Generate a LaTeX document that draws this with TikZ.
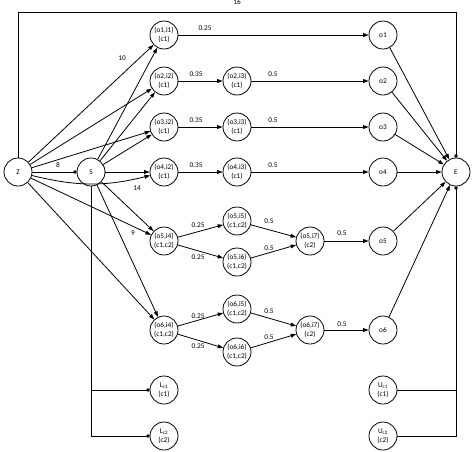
\documentclass[tikz,border=0pt]{standalone}
\usepackage{fontspec}
\setmainfont{Carlito}
\usetikzlibrary{arrows.meta}

\begin{document}
\begin{tikzpicture}[x=1pt,y=-1pt,
  vtx/.style={circle,draw,line width=0.8pt,minimum size=28pt,inner sep=0pt,align=center,font=\fontsize{7.3}{8.6}\selectfont},
  lbl/.style={font=\fontsize{7.3}{8}\selectfont,inner sep=0pt},
  flow/.style={-{Triangle[length=5.5pt,width=3.8pt]},line width=0.8pt},
  dotend/.style={-{Circle[length=3.4pt]},line width=0.8pt},
  wire/.style={line width=0.8pt}]
  \useasboundingbox (0,0) rectangle (474,451);
  % source nodes
  \node[vtx] (Z) at (18,172) {Z};
  \node[vtx] (S) at (91,172) {S};
  % first column
  \node[vtx] (o1i1) at (164,35) {(o1,i1)\\(c1)};
  \node[vtx] (o2i2) at (164,81) {(o2,i2)\\(c1)};
  \node[vtx] (o3i2) at (164,127) {(o3,i2)\\(c1)};
  \node[vtx] (o4i2) at (164,172) {(o4,i2)\\(c1)};
  \node[vtx] (o5i4) at (164,241) {(o5,i4)\\(c1,c2)};
  \node[vtx] (o6i4) at (164,330) {(o6,i4)\\(c1,c2)};
  % second column
  \node[vtx] (o2i3) at (237,81) {(o2,i3)\\(c1)};
  \node[vtx] (o3i3) at (237,127) {(o3,i3)\\(c1)};
  \node[vtx] (o4i3) at (237,172) {(o4,i3)\\(c1)};
  \node[vtx] (o5i5) at (237,221) {(o5,i5)\\(c1,c2)};
  \node[vtx] (o5i6) at (237,262) {(o5,i6)\\(c1,c2)};
  \node[vtx] (o6i5) at (237,309) {(o6,i5)\\(c1,c2)};
  \node[vtx] (o6i6) at (237,352) {(o6,i6)\\(c1,c2)};
  % third column
  \node[vtx] (o5i7) at (310,241) {(o5,i7)\\(c2)};
  \node[vtx] (o6i7) at (310,330) {(o6,i7)\\(c2)};
  % outputs and sink
  \node[vtx] (o1) at (383,35) {o1};
  \node[vtx] (o2) at (383,81) {o2};
  \node[vtx] (o3) at (383,127) {o3};
  \node[vtx] (o4) at (383,172) {o4};
  \node[vtx] (o5) at (383,241) {o5};
  \node[vtx] (o6) at (383,330) {o6};
  \node[vtx] (E) at (456,172) {E};
  % bounds
  \node[vtx] (Lc1) at (164,390) {L\textsubscript{c1}\\(c1)};
  \node[vtx] (Lc2) at (164,436) {L\textsubscript{c2}\\(c2)};
  \node[vtx] (Uc1) at (383,390) {U\textsubscript{c1}\\(c1)};
  \node[vtx] (Uc2) at (383,436) {U\textsubscript{c2}\\(c2)};
  \coordinate (topR) at (456,12);

  % edges from Z and S
  \draw[dotend] (Z) -- (S);
  \draw[flow] (Z) -- (o1i1);
  \draw[flow] (Z) -- (o2i2);
  \draw[flow] (Z) -- (o3i2);
  \draw[flow] (Z) to[bend right=14] (o4i2);
  \draw[flow] (Z) -- (o5i4);
  \draw[flow] (Z) -- (o6i4);
  \foreach \n in {o1i1,o2i2,o3i2,o4i2,o5i4,o6i4} {\draw[flow] (S) -- (\n);}
  % chains
  \draw[flow] (o1i1) -- (o1);
  \foreach \k in {2,3,4} {
    \draw[flow] (o\k i2) -- (o\k i3);
    \draw[flow] (o\k i3) -- (o\k);
  }
  \foreach \k in {5,6} {
    \draw[flow] (o\k i4) -- (o\k i5);
    \draw[flow] (o\k i4) -- (o\k i6);
    \draw[flow] (o\k i5) -- (o\k i7);
    \draw[flow] (o\k i6) -- (o\k i7);
    \draw[flow] (o\k i7) -- (o\k);
  }
  \foreach \k in {1,...,6} {\draw[flow] (o\k) -- (E);}
  % frame lines
  \draw[dotend] (Z.north) |- (topR) -- (E.north);
  \draw[dotend] (Uc2.east) -| (E.south);
  \draw[wire] (Uc1.east) -- (Uc1.east -| E.south);
  \draw[dotend] (S.south) |- (Lc2.west);
  \draw[dotend] (S.south |- Lc1.west) -- (Lc1.west);

  % weights
  \node[lbl] (w16) at (237,2) {16};
  \node[lbl] (w10) at (122,58) {10};
  \node[lbl] (w8) at (58,165) {8};
  \node[lbl] (w14) at (137,188) {14};
  \node[lbl] (w9) at (133,233) {9};
  \node[lbl] (w1a) at (205,28) {0.25};
  \node[lbl] (w2a) at (196,74) {0.35};
  \node[lbl] (w2b) at (273,74) {0.5};
  \node[lbl] (w3a) at (196,120) {0.35};
  \node[lbl] (w3b) at (273,120) {0.5};
  \node[lbl] (w4a) at (196,165) {0.35};
  \node[lbl] (w4b) at (273,165) {0.5};
  \node[lbl] (w5a) at (198,225) {0.25};
  \node[lbl] (w5b) at (198,257) {0.25};
  \node[lbl] (w5c) at (269,221) {0.5};
  \node[lbl] (w5d) at (269,248) {0.5};
  \node[lbl] (w5e) at (342,233) {0.5};
  \node[lbl] (w6a) at (198,316) {0.25};
  \node[lbl] (w6b) at (198,346) {0.25};
  \node[lbl] (w6c) at (269,311) {0.5};
  \node[lbl] (w6d) at (269,337) {0.5};
  \node[lbl] (w6e) at (342,324) {0.5};
\end{tikzpicture}
\end{document}
